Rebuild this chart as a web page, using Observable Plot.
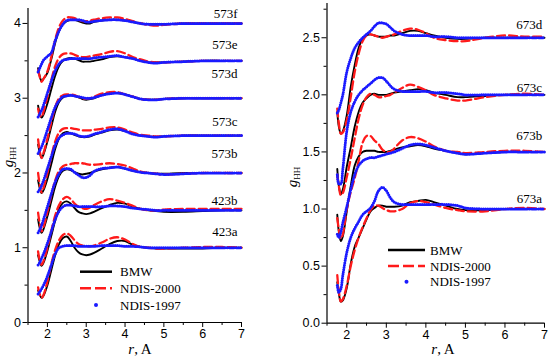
<!DOCTYPE html>
<html><head><meta charset="utf-8">
<script src="https://cdn.jsdelivr.net/npm/d3@7"></script>
<script src="https://cdn.jsdelivr.net/npm/@observablehq/plot@0.6"></script>
<style>
html,body{margin:0;padding:0;background:#fff;}
#wrap{position:relative;width:550px;height:358px;display:flex;}
#wrap svg{display:block;}
#overlay{position:absolute;left:0;top:0;}
</style></head><body><div id="wrap"></div>
<script>
// ---------- data ----------
const seriesNames = ["BMW", "NDIS-2000", "NDIS-1997"];

// Left panel: r grid, curve labels, vertical shift of each curve, label heights
const rLeft = [1.76,1.8,1.85,1.9,2.0,2.1,2.2,2.3,2.4,2.5,2.6,2.7,2.8,2.9,3.0,3.1,3.2,3.4,3.6,3.8,4.0,4.2,4.4,4.6,4.8,5.0,5.5,6.0,6.5,7.0];
const leftGroups = ["423a","423b","573b","573c","573d","573e","573f"];
const leftShift = [0,0.5,1.0,1.5,2.0,2.5,3.0];
const leftLabelY = [1.21,1.63,2.26,2.68,3.32,3.72,4.13];

const leftBMW = [
 [0.43,0.37,0.33,0.36,0.5,0.7,0.9,1.05,1.13,1.15,1.09,1.0,0.94,0.91,0.9,0.91,0.93,0.99,1.05,1.09,1.09,1.04,1.01,1.0,0.99,0.99,0.99,0.99,1.0,1.0],
 [0.4,0.32,0.26,0.3,0.46,0.66,0.86,1.02,1.1,1.12,1.09,1.03,0.98,0.96,0.95,0.96,0.98,1.03,1.07,1.1,1.09,1.05,1.02,1.0,0.99,0.98,0.98,0.99,1.0,1.0],
 [0.38,0.27,0.2,0.25,0.42,0.62,0.82,0.96,1.03,1.05,1.04,1.01,0.99,0.98,0.99,1.0,1.02,1.05,1.07,1.08,1.06,1.03,1.01,1.0,0.99,0.99,1.0,1.0,1.0,1.0],
 [0.4,0.3,0.23,0.27,0.42,0.62,0.82,0.96,1.03,1.05,1.03,1.01,0.99,0.98,0.98,0.99,1.01,1.04,1.07,1.08,1.06,1.03,1.0,0.99,0.98,0.99,1.0,1.0,1.0,1.0],
 [0.38,0.28,0.2,0.25,0.42,0.62,0.82,0.95,1.01,1.03,1.04,1.03,1.01,0.99,0.98,0.99,1.0,1.04,1.07,1.07,1.05,1.02,0.99,0.98,0.98,0.99,1.0,1.0,1.0,1.0],
 [0.4,0.3,0.24,0.28,0.43,0.62,0.8,0.93,1.0,1.03,1.04,1.03,1.01,0.99,0.99,0.99,1.0,1.02,1.05,1.06,1.05,1.03,1.0,0.98,0.98,0.98,0.99,1.0,1.0,1.0],
 [0.4,0.3,0.23,0.26,0.34,0.52,0.74,0.9,0.99,1.03,1.05,1.05,1.03,1.01,1.0,1.0,1.02,1.04,1.05,1.05,1.04,1.02,1.0,0.99,0.99,0.99,1.0,1.0,1.0,1.0]
];
const leftNDIS2000 = [
 [0.47,0.38,0.33,0.37,0.55,0.78,0.97,1.1,1.17,1.19,1.16,1.1,1.05,1.03,1.02,1.02,1.03,1.07,1.12,1.14,1.11,1.05,1.01,1.0,0.99,0.99,1.0,1.01,1.01,1.0],
 [0.45,0.34,0.27,0.32,0.5,0.72,0.93,1.07,1.15,1.18,1.15,1.09,1.05,1.03,1.02,1.04,1.07,1.12,1.15,1.13,1.1,1.06,1.02,1.0,1.0,1.01,1.02,1.02,1.02,1.02],
 [0.47,0.33,0.22,0.28,0.48,0.7,0.9,1.03,1.09,1.11,1.12,1.13,1.13,1.13,1.12,1.11,1.11,1.12,1.13,1.12,1.1,1.06,1.02,1.0,0.99,0.98,0.99,1.0,1.0,1.0],
 [0.5,0.35,0.24,0.3,0.5,0.72,0.92,1.04,1.09,1.1,1.1,1.09,1.08,1.07,1.07,1.07,1.08,1.09,1.11,1.11,1.08,1.04,1.01,1.0,0.99,0.99,1.0,1.0,1.0,1.0],
 [0.45,0.3,0.2,0.27,0.46,0.68,0.88,1.0,1.04,1.05,1.05,1.04,1.02,1.0,0.99,1.0,1.02,1.06,1.08,1.08,1.05,1.02,0.99,0.98,0.98,0.99,1.0,1.0,1.0,1.0],
 [0.36,0.28,0.25,0.32,0.52,0.74,0.93,1.04,1.09,1.1,1.1,1.08,1.06,1.05,1.05,1.06,1.07,1.09,1.12,1.13,1.1,1.05,1.02,0.99,0.98,0.98,0.99,1.0,1.0,1.0],
 [0.38,0.29,0.22,0.26,0.36,0.55,0.78,0.95,1.04,1.08,1.08,1.07,1.05,1.03,1.03,1.04,1.05,1.07,1.08,1.08,1.06,1.03,1.0,0.98,0.97,0.98,1.0,1.0,1.0,1.0]
];
const leftNDIS1997 = [
 [0.38,0.41,0.45,0.5,0.62,0.77,0.92,1.0,1.02,1.03,1.03,1.03,1.02,1.02,1.02,1.02,1.02,1.03,1.03,1.03,1.02,1.02,1.01,1.0,1.0,1.0,1.0,1.0,1.0,1.0],
 [0.27,0.3,0.36,0.42,0.56,0.72,0.88,0.99,1.05,1.07,1.07,1.06,1.05,1.05,1.05,1.05,1.05,1.05,1.06,1.06,1.05,1.03,1.02,1.01,1.0,1.0,1.0,1.0,1.0,1.0],
 [0.2,0.24,0.3,0.38,0.55,0.72,0.88,0.99,1.05,1.06,1.05,1.01,0.97,0.94,0.94,0.97,1.02,1.06,1.07,1.08,1.06,1.03,1.01,1.0,0.99,0.98,0.99,1.0,1.0,1.0],
 [0.25,0.28,0.33,0.4,0.56,0.72,0.87,0.97,1.01,1.03,1.03,1.02,1.0,0.99,0.99,1.0,1.02,1.05,1.08,1.09,1.06,1.02,1.0,0.99,0.98,0.99,1.0,1.0,1.0,1.0],
 [0.26,0.3,0.35,0.42,0.58,0.74,0.88,0.97,1.02,1.03,1.04,1.03,1.02,1.01,1.0,1.0,1.01,1.04,1.06,1.07,1.05,1.02,0.99,0.98,0.98,0.99,1.0,1.0,1.0,1.0],
 [0.25,0.29,0.34,0.41,0.57,0.73,0.87,0.96,1.01,1.02,1.03,1.03,1.03,1.03,1.03,1.03,1.04,1.05,1.06,1.07,1.05,1.03,1.0,0.98,0.97,0.98,0.99,1.0,1.0,1.0],
 [0.35,0.4,0.46,0.51,0.56,0.61,0.77,0.9,0.99,1.04,1.05,1.05,1.05,1.04,1.02,1.02,1.03,1.04,1.05,1.05,1.04,1.02,1.0,0.99,0.99,0.99,1.0,1.0,1.0,1.0]
];

// Right panel (values as plotted)
const rRight = [1.76,1.8,1.85,1.9,2.0,2.1,2.2,2.3,2.4,2.5,2.6,2.7,2.8,2.9,3.0,3.1,3.2,3.4,3.6,3.8,4.0,4.2,4.5,4.8,5.0,5.5,6.0,6.5,7.0];
const rightGroups = ["673a","673b","673c","673d"];
const rightShift = [0,0,0,0];
const rightLabelY = [1.09,1.64,2.06,2.61];

const rightBMW = [
 [0.36,0.26,0.19,0.2,0.31,0.52,0.67,0.75,0.83,0.91,0.98,1.01,1.03,1.03,1.02,1.02,1.02,1.03,1.06,1.07,1.08,1.06,1.03,1.0,0.99,0.99,1.0,1.0,1.0],
 [0.95,0.8,0.72,0.76,0.98,1.2,1.38,1.46,1.5,1.51,1.51,1.51,1.5,1.5,1.5,1.51,1.52,1.54,1.55,1.56,1.55,1.53,1.51,1.49,1.48,1.49,1.5,1.5,1.5],
 [1.35,1.2,1.13,1.17,1.37,1.54,1.72,1.85,1.93,1.97,2.0,2.01,2.0,2.0,2.0,2.01,2.02,2.03,2.04,2.05,2.04,2.02,2.0,1.98,1.98,1.99,2.0,2.0,2.0],
 [1.85,1.72,1.66,1.68,1.82,2.07,2.26,2.41,2.49,2.52,2.53,2.52,2.51,2.51,2.51,2.52,2.52,2.54,2.56,2.56,2.54,2.52,2.5,2.49,2.49,2.5,2.5,2.5,2.5]
];
const rightNDIS2000 = [
 [0.42,0.28,0.19,0.21,0.33,0.5,0.64,0.75,0.84,0.92,0.99,1.03,1.03,1.01,0.99,0.98,0.98,1.0,1.05,1.07,1.06,1.04,1.01,0.99,0.98,0.98,1.0,1.01,1.0],
 [0.92,0.82,0.74,0.78,1.0,1.15,1.27,1.42,1.58,1.64,1.64,1.6,1.57,1.52,1.5,1.5,1.53,1.6,1.63,1.62,1.59,1.55,1.51,1.5,1.49,1.5,1.51,1.51,1.5],
 [1.3,1.2,1.12,1.14,1.28,1.44,1.62,1.79,1.91,1.98,2.01,2.0,1.98,1.98,1.99,2.0,2.02,2.06,2.09,2.07,2.04,2.0,1.97,1.95,1.95,1.98,2.0,2.01,2.0],
 [1.88,1.75,1.66,1.67,1.78,1.98,2.2,2.36,2.47,2.52,2.53,2.52,2.51,2.5,2.51,2.52,2.53,2.56,2.58,2.57,2.54,2.5,2.48,2.47,2.47,2.5,2.52,2.51,2.51]
];
const rightNDIS1997 = [
 [0.33,0.27,0.3,0.42,0.62,0.75,0.83,0.89,0.95,0.98,1.01,1.07,1.16,1.19,1.16,1.1,1.06,1.04,1.04,1.04,1.04,1.04,1.04,1.03,1.01,1.0,1.0,1.0,1.0],
 [0.78,0.75,0.8,0.88,1.02,1.17,1.3,1.38,1.42,1.44,1.45,1.45,1.46,1.47,1.48,1.49,1.5,1.53,1.56,1.57,1.56,1.54,1.51,1.49,1.48,1.49,1.5,1.5,1.5],
 [1.3,1.22,1.22,1.35,1.68,1.85,1.94,2.0,2.04,2.07,2.1,2.13,2.15,2.15,2.12,2.08,2.05,2.03,2.03,2.03,2.03,2.02,2.02,2.01,2.0,2.0,2.0,2.0,2.0],
 [1.84,1.87,1.93,2.0,2.2,2.32,2.41,2.46,2.5,2.53,2.56,2.6,2.63,2.63,2.62,2.59,2.56,2.53,2.52,2.52,2.52,2.51,2.51,2.5,2.5,2.5,2.5,2.5,2.5]
];

const xMajor = [2,3,4,5,6,7];
const xMinor = [1.5,2.5,3.5,4.5,5.5,6.5];
const leftYMajor = [0,1,2,3,4];
const leftYMinor = [0.5,1.5,2.5,3.5];
const rightYMajor = [0,0.5,1,1.5,2,2.5];
const rightYMinor = [0.25,0.75,1.25,1.75,2.25,2.75];

// ---------- drawing ----------
const BLUE = "#1a1aff", RED = "#ff1a1a";
function buildRows(rs, groups, shift, sets) {
  const rows = [];
  sets.forEach((set, s) => set.forEach((arr, i) => arr.forEach((v, j) =>
    rows.push({r: rs[j], v: v + shift[i], s: seriesNames[s], g: groups[i]}))));
  return rows;
}
function panel(o) {
  const rows = buildRows(o.rs, o.groups, o.shift, o.sets);
  const by = n => rows.filter(d => d.s === n);
  const serif = "'Liberation Serif','Times New Roman',serif";
  return Plot.plot({
    width: 275, height: 358,
    marginLeft: o.ml, marginRight: o.mr, marginTop: o.mt, marginBottom: o.mb,
    x: {domain: [1.5, 7]},
    y: {domain: [0, o.ymax]},
    style: {fontFamily: "'Liberation Sans',Arial,sans-serif", fontSize: "12.5px", color: "#000", background: "#fff", overflow: "visible"},
    marks: [
      Plot.axisX({ticks: xMinor, tickSize: 3, tickFormat: () => "", label: null}),
      Plot.axisX({ticks: xMajor, tickSize: 5, tickPadding: 2, label: null, tickFormat: d3.format("d")}),
      Plot.axisY({ticks: o.yMinor, tickSize: 3, tickFormat: () => "", label: null}),
      Plot.axisY({ticks: o.yMajor, tickSize: 5, tickPadding: 2, label: null, tickFormat: o.yFmt}),
      Plot.ruleX([1.5], {stroke: "#000", strokeWidth: 1.2}),
      Plot.ruleY([0], {stroke: "#000", strokeWidth: 1.2}),
      Plot.line(by("BMW"), {x: "r", y: "v", z: "g", stroke: "#000", strokeWidth: 1.9, curve: "catmull-rom"}),
      Plot.line(by("NDIS-2000"), {x: "r", y: "v", z: "g", stroke: RED, strokeWidth: 2.3, strokeDasharray: "8,4", curve: "catmull-rom"}),
      Plot.line(by("NDIS-1997"), {x: "r", y: "v", z: "g", stroke: BLUE, strokeWidth: 3, strokeDasharray: "0,2.2", strokeLinecap: "round", curve: "catmull-rom"}),
      Plot.text(o.groups, {x: () => o.labelR, y: (d, i) => o.labelY[i], text: d => d, textAnchor: "end", fontFamily: serif, fontSize: 13, fill: "#000"})
    ]
  });
}

const wrap = document.getElementById("wrap");
wrap.appendChild(panel({rs: rLeft, groups: leftGroups, shift: leftShift, sets: [leftBMW, leftNDIS2000, leftNDIS1997],
  ml: 27.5, mr: 34, mt: 8, mb: 36, ymax: 4.2, yMajor: leftYMajor, yMinor: leftYMinor, yFmt: d3.format("d"),
  labelR: 6.9, labelY: leftLabelY}));
wrap.appendChild(panel({rs: rRight, groups: rightGroups, shift: rightShift, sets: [rightBMW, rightNDIS2000, rightNDIS1997],
  ml: 51.5, mr: 6, mt: 3, mb: 35.3, ymax: 2.8, yMajor: rightYMajor, yMinor: rightYMinor, yFmt: d3.format(".1f"),
  labelR: 6.94, labelY: rightLabelY}));

// overlay: axis titles and legends
const ov = d3.select(wrap).append("svg").attr("id", "overlay").attr("width", 550).attr("height", 358)
  .style("font-family", "'Liberation Serif','Times New Roman',serif").style("pointer-events", "none");
function xTitle(cx) {
  const t = ov.append("text").attr("x", cx).attr("y", 354).attr("text-anchor", "middle").attr("font-size", 15).attr("fill", "#000");
  t.append("tspan").attr("font-style", "italic").text("r");
  t.append("tspan").text(", A");
}
function yTitle(x, y) {
  const t = ov.append("text").attr("transform", `translate(${x},${y}) rotate(-90)`).attr("text-anchor", "middle").attr("font-size", 15).attr("fill", "#000");
  t.append("tspan").attr("font-style", "italic").text("g");
  t.append("tspan").attr("font-size", 9).attr("dy", 3).text("HH");
}
xTitle(140); xTitle(443);
yTitle(13, 157); yTitle(297, 177);
function legend(x0, x1, ys, tx) {
  ov.append("line").attr("x1", x0).attr("x2", x1).attr("y1", ys[0]).attr("y2", ys[0]).attr("stroke", "#000").attr("stroke-width", 2.5);
  ov.append("line").attr("x1", x0).attr("x2", x1).attr("y1", ys[1]).attr("y2", ys[1]).attr("stroke", RED).attr("stroke-width", 2.5).attr("stroke-dasharray", "11,4");
  ov.append("circle").attr("cx", (x0 + x1) / 2).attr("cy", ys[2]).attr("r", 2).attr("fill", BLUE);
  seriesNames.forEach((n, i) => ov.append("text").attr("x", tx).attr("y", ys[i] + 4.5).attr("font-size", 13).attr("fill", "#000").text(n));
}
legend(80, 112, [271.7, 288.3, 305], 120);
legend(388, 425, [250, 266, 281.7], 430);
</script></body></html>
